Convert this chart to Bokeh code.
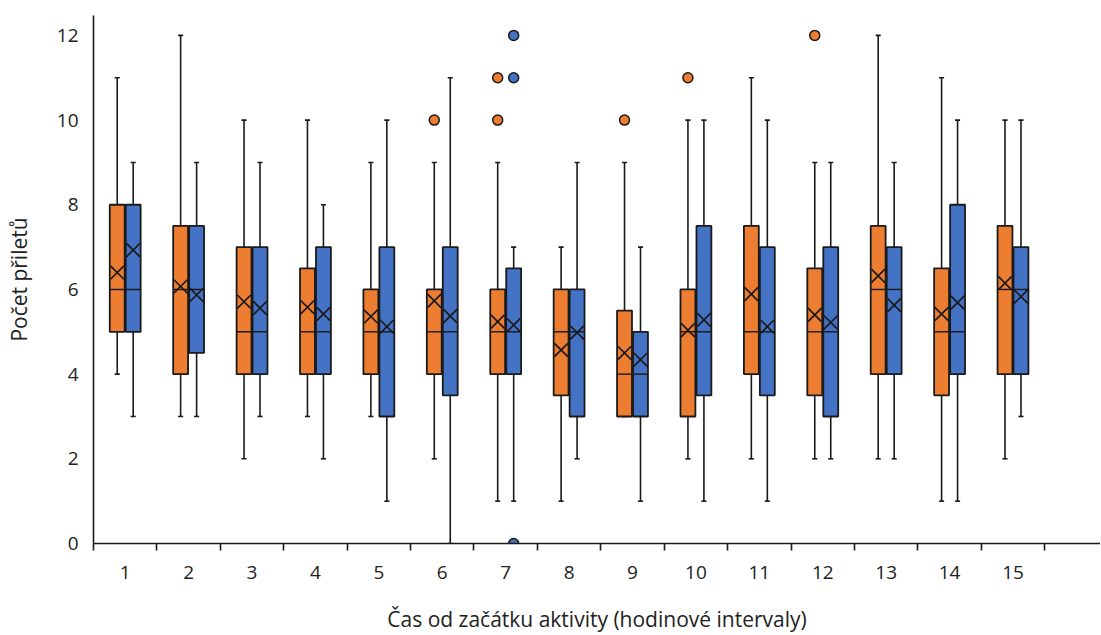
from bokeh.plotting import figure
from bokeh.models import ColumnDataSource, FixedTicker, Range1d
from bokeh.embed import file_html
from bokeh.resources import INLINE

# hourly intervals since start of activity
cats = list(range(1, 16))

# orange series
o_low = [4, 3, 2, 3, 3, 2, 1, 1, 3, 2, 2, 2, 2, 1, 2]
o_q1 = [5, 4, 4, 4, 4, 4, 4, 3.5, 3, 3, 4, 3.5, 4, 3.5, 4]
o_med = [6, 6, 5, 5, 5, 5, 5, 5, 4, 5, 5, 5, 6, 5, 6]
o_q3 = [8, 7.5, 7, 6.5, 6, 6, 6, 6, 5.5, 6, 7.5, 6.5, 7.5, 6.5, 7.5]
o_high = [11, 12, 10, 10, 9, 9, 9, 7, 9, 10, 11, 9, 12, 11, 10]
o_mean = [6.40, 6.07, 5.71, 5.58, 5.36, 5.73, 5.24, 4.57, 4.50, 5.04, 5.89, 5.40, 6.32, 5.42, 6.15]
o_out_cat = [6, 7, 7, 9, 10, 12]
o_out_val = [10, 11, 10, 10, 11, 12]

# blue series
b_low = [3, 3, 3, 2, 1, 0, 1, 2, 1, 1, 1, 2, 2, 1, 3]
b_q1 = [5, 4.5, 4, 4, 3, 3.5, 4, 3, 3, 3.5, 3.5, 3, 4, 4, 4]
b_med = [6, 6, 5, 5, 5, 5, 5, 5, 4, 5, 5, 5, 6, 5, 6]
b_q3 = [8, 7.5, 7, 7, 7, 7, 6.5, 6, 5, 7.5, 7, 7, 7, 8, 7]
b_high = [9, 9, 9, 8, 10, 11, 7, 9, 7, 10, 10, 9, 9, 10, 10]
b_mean = [6.93, 5.87, 5.56, 5.42, 5.12, 5.37, 5.16, 4.98, 4.34, 5.28, 5.12, 5.22, 5.63, 5.69, 5.83]
b_out_cat = [7, 7, 7]
b_out_val = [12, 11, 0]

FONT = "Open Sans"
TXT = "#222222"
EDGE = "#1a1a1a"
OFF = 0.126
BOX_W = 0.235
CAP = 0.04

p = figure(width=1100, height=635, output_backend="svg", toolbar_location=None,
           x_range=Range1d(0.5, 16.38), y_range=Range1d(0, 12.47),
           min_border_left=93, min_border_right=0, min_border_top=15, min_border_bottom=91)
p.outline_line_color = None
p.grid.visible = False


def draw_series(shift, low, q1, med, q3, high, mean, out_cat, out_val, color):
    x = [c + shift for c in cats]
    src = ColumnDataSource(data=dict(
        x=x, low=low, q1=q1, med=med, q3=q3, high=high, mean=mean,
        m0=[v - BOX_W / 2 for v in x], m1=[v + BOX_W / 2 for v in x],
        c0=[v - CAP for v in x], c1=[v + CAP for v in x],
    ))
    # whiskers
    p.segment(x0='x', y0='q3', x1='x', y1='high', source=src, line_color=EDGE, line_width=1.6)
    p.segment(x0='x', y0='low', x1='x', y1='q1', source=src, line_color=EDGE, line_width=1.6)
    p.segment(x0='c0', y0='high', x1='c1', y1='high', source=src, line_color=EDGE, line_width=1.6)
    p.segment(x0='c0', y0='low', x1='c1', y1='low', source=src, line_color=EDGE, line_width=1.6)
    # box
    p.vbar(x='x', width=BOX_W, top='q3', bottom='q1', source=src,
           fill_color=color, line_color=EDGE, line_width=1.8)
    # median
    p.segment(x0='m0', y0='med', x1='m1', y1='med', source=src, line_color=EDGE, line_width=1.4)
    # mean
    p.scatter('x', 'mean', source=src, marker="x", size=19, line_color=EDGE, line_width=1.7)
    # outliers
    p.scatter([c + shift for c in out_cat], out_val, marker="circle", size=10,
              fill_color=color, line_color=EDGE, line_width=1.5)


draw_series(-OFF, o_low, o_q1, o_med, o_q3, o_high, o_mean, o_out_cat, o_out_val, "#ED7D31")
draw_series(OFF, b_low, b_q1, b_med, b_q3, b_high, b_mean, b_out_cat, b_out_val, "#4472C4")

# x axis: labels at category centres, tick marks between categories
p.xaxis.ticker = FixedTicker(ticks=cats, minor_ticks=[c - 0.5 for c in cats] + [15.5])
p.xaxis.major_tick_out = 7
p.xaxis.major_tick_in = 0
p.xaxis.minor_tick_line_color = EDGE
p.xaxis.minor_tick_line_width = 1.6
p.xaxis.minor_tick_out = 7
p.xaxis.minor_tick_in = 0
p.xaxis.axis_label = "Čas od začátku aktivity (hodinové intervaly)"

p.yaxis.ticker = FixedTicker(ticks=[0, 2, 4, 6, 8, 10, 12])
p.yaxis.minor_tick_line_color = None
p.yaxis.major_tick_out = 7
p.yaxis.major_tick_in = 0
p.yaxis.major_tick_line_width = 1.6
p.yaxis.axis_label = "Počet přiletů"

for ax in (p.xaxis, p.yaxis):
    ax.axis_line_color = EDGE
    ax.axis_line_width = 1.6
    ax.major_tick_line_color = EDGE if ax is p.yaxis else None
    ax.major_label_text_font = FONT
    ax.major_label_text_font_size = "19px"
    ax.major_label_text_color = TXT
    ax.axis_label_text_font = FONT
    ax.axis_label_text_font_size = "21px"
    ax.axis_label_text_font_style = "normal"
    ax.axis_label_text_color = TXT

p.xaxis.major_label_standoff = 15
p.xaxis.axis_label_standoff = 23
p.yaxis.major_label_standoff = 8
p.yaxis.axis_label_standoff = 21

open("out.html", "w").write(file_html(p, INLINE))
